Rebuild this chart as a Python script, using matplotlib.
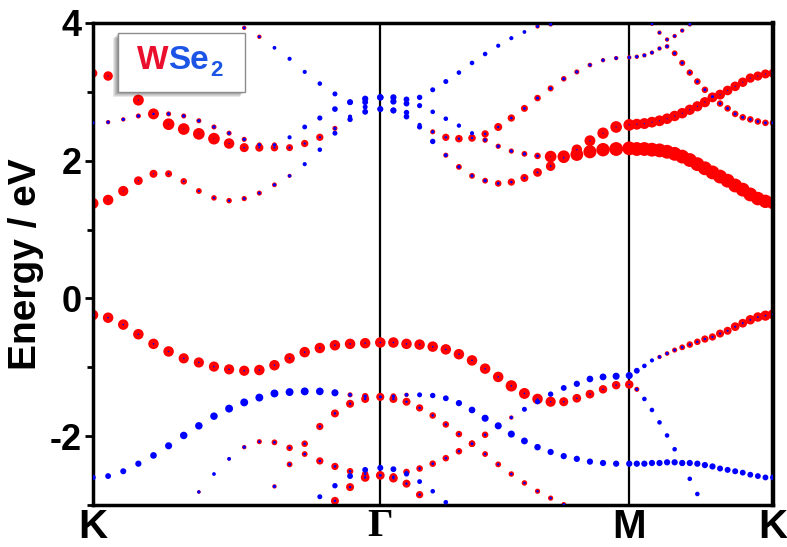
import numpy as np
import matplotlib
matplotlib.use('Agg')
import matplotlib.pyplot as plt
from matplotlib.patches import Rectangle
from matplotlib.ticker import MultipleLocator, FormatStrFormatter

plt.rcParams['font.family'] = ['Liberation Sans', 'DejaVu Sans']
plt.rcParams['font.weight'] = 'bold'
plt.rcParams['axes.unicode_minus'] = False

nan = np.nan

# K -> Gamma -> M -> K, segment lengths in 2pi/a, 20 k-points per segment
SEG_LEN = [1.333, 1.155, 0.667]
N_SEG = 20
K_LABELS = ['K', 'Γ', 'M', 'K']

# band energies (eV) on the 58 k-points, NaN where off the window
c1_e = [1.38, 1.43, 1.56, 1.71, 1.81, 1.81, 1.70, 1.56, 1.46, 1.42, 1.45, 1.53, 1.65, 1.78, 1.95, 2.16, 2.40, 2.60, 2.71, 2.75,
        2.73, 2.64, 2.49, 2.28, 2.08, 1.91, 1.78, 1.71, 1.67, 1.69, 1.75, 1.83, 1.92, 2.04, 2.16, 2.29, 2.40, 2.49, 2.52,
        2.53, 2.54, 2.56, 2.58, 2.61, 2.65, 2.69, 2.74, 2.79, 2.85, 2.92, 2.96, 3.02, 3.08, 3.14, 3.20, 3.23, 3.26, 3.27]
c2_e = [2.55, 2.56, 2.60, 2.65, 2.68, 2.68, 2.65, 2.58, 2.49, 2.40, 2.31, 2.23, 2.23, 2.34, 2.49, 2.62, 2.75, 2.85, 2.90, 2.92,
        2.86, 2.83, 2.80, 2.71, 2.61, 2.51, 2.40, 2.39, 2.49, 2.62, 2.76, 2.91, 3.05, 3.19, 3.29, 3.39, 3.46, 3.49, 3.50,
        3.51, 3.53, 3.57, 3.63, 3.66, 3.56, 3.42, 3.28, 3.15, 3.03, 2.93, 2.83, 2.76, 2.68, 2.63, 2.60, 2.57, 2.55, 2.55]
c3_e = [3.27, 3.23, 3.09, 2.88, 2.68, 2.53, 2.46, 2.39, 2.32, 2.25, 2.19, 2.19, 2.19, 2.19, 2.25, 2.34, 2.47, 2.64, 2.78, 2.75,
        2.73, 2.70, 2.52, 2.42, 2.34, 2.32, 2.33, 2.30, 2.21, 2.14, 2.10, 2.07, 2.06, 2.06, 2.09, 2.13, 2.16, 2.17, 2.18,
        2.17, 2.17, 2.16, 2.15, 2.13, 2.10, 2.06, 2.01, 1.95, 1.89, 1.83, 1.77, 1.71, 1.64, 1.58, 1.51, 1.45, 1.41, 1.39]
c4_e = ([nan] * 10 + [3.93, 3.80, 3.64, 3.48, 3.29, 3.12, 2.97, 2.85, 2.85, 2.92]
        + [2.92, 2.89, 2.92, 3.03, 3.15, 3.28, 3.42, 3.55, 3.67, 3.78, 3.87, 3.95, 3.98] + [nan] * 8
        + [3.99, 3.86, 3.76, 3.81, 3.89, 3.98] + [nan] * 11)
v1_e = [-0.24, -0.28, -0.38, -0.52, -0.66, -0.77, -0.87, -0.93, -0.99, -1.03, -1.05, -1.04, -0.97, -0.87, -0.78, -0.72, -0.68, -0.66, -0.65, -0.64,
        -0.64, -0.66, -0.67, -0.70, -0.74, -0.81, -0.90, -1.02, -1.14, -1.27, -1.38, -1.46, -1.50, -1.50, -1.45, -1.39, -1.32, -1.26, -1.25,
        -1.32, -1.46, -1.62, -1.80, -1.99, -2.19, -2.40, -2.62, -2.84] + [nan] * 10
v2_e = [-2.60, -2.58, -2.51, -2.40, -2.28, -2.14, -1.99, -1.85, -1.71, -1.60, -1.51, -1.44, -1.38, -1.36, -1.35, -1.35, -1.37, -1.40, -1.42, -1.43,
        -1.42, -1.40, -1.40, -1.41, -1.45, -1.52, -1.62, -1.74, -1.85, -1.97, -2.07, -2.16, -2.23, -2.29, -2.33, -2.37, -2.39, -2.40, -2.40,
        -2.40, -2.40, -2.39, -2.39, -2.38, -2.38, -2.39, -2.39, -2.40, -2.42, -2.44, -2.47, -2.49, -2.51, -2.53, -2.56, -2.58, -2.60, -2.60]
v3_e = ([nan] * 12 + [-2.73, -2.41, -2.11, -1.86, -1.67, -1.53, -1.46, -1.43]
        + [-1.46, -1.50, -1.59, -1.70, -1.83, -1.97, -2.11, -2.26, -2.41, -2.55, -2.68, -2.80, -2.90, -2.99] + [nan] * 24)
v4_e = ([nan] * 7 + [-2.81, -2.55, -2.33, -2.16, -2.08, -2.09, -2.17, -2.26, -2.36, -2.44, -2.51, -2.55, -2.57]
        + [-2.59, -2.52, -2.47, -2.40, -2.32, -2.22, -2.11, -1.98, -1.85, -1.73, -1.61, -1.50, -1.39, -1.30, -1.24, -1.17, -1.14, -1.13, -1.12]
        + [-1.05, -0.98, -0.90, -0.85, -0.80, -0.75, -0.71, -0.67, -0.63, -0.59, -0.56, -0.51, -0.47, -0.41, -0.36, -0.31, -0.27, -0.25, -0.23])
v5_e = [nan] * 15 + [-2.88, -2.72, -2.58, -2.49, -2.46, -2.48, -2.55, -2.66, -2.80, -2.96] + [nan] * 33
v6_e = [nan] * 16 + [-2.94, -2.74, -2.60, -2.57, -2.61, -2.69, -2.85] + [nan] * 35

# W-d and Se-p weights (%) on the same k-points
c1_w = [75, 72, 70, 60, 55, 48, 45, 40, 38, 38, 36, 35, 33, 28, 15, 10, 10, 10, 10, 10,
        10, 10, 10, 10, 35, 40, 40, 40, 45, 50, 55, 60, 65, 70, 72, 75, 78, 80, 80,
        75, 75, 74, 74, 73, 72, 72, 71, 70, 70, 68, 68, 66, 66, 65, 64, 63, 62, 62]
c1_se = [12, 12, 12, 15, 15, 20, 22, 25, 28, 30, 33, 35, 38, 40, 50, 55, 60, 65, 70, 70,
         72, 68, 62, 65, 45, 40, 40, 40, 35, 30, 28, 25, 22, 20, 18, 16, 15, 15, 15,
         15, 15, 15, 15, 15, 15, 15, 15, 15, 15, 15, 15, 15, 15, 15, 15, 15, 15, 15]
c2_w = [30, 30, 30, 35, 55, 35, 35, 35, 35, 35, 35, 35, 35, 15, 10, 10, 10, 10, 10, 10,
        10, 10, 10, 8, 8, 8, 10, 50, 55, 50, 48, 45, 42, 38, 35, 32, 30, 30, 30,
        30, 30, 30, 30, 32, 40, 42, 44, 45, 45, 45, 45, 45, 45, 45, 45, 45, 45, 45]
c2_se = [40, 40, 40, 40, 30, 40, 40, 40, 40, 40, 40, 40, 40, 50, 58, 62, 68, 72, 75, 78,
         75, 70, 62, 55, 55, 52, 50, 30, 30, 32, 35, 38, 40, 40, 40, 40, 40, 40, 40,
         40, 40, 40, 40, 40, 38, 38, 36, 36, 36, 36, 36, 36, 36, 36, 36, 36, 36, 36]
c3_w = [60, 65, 70, 75, 75, 80, 80, 80, 80, 72, 62, 56, 52, 48, 50, 50, 35, 25, 15, 10,
        10, 10, 20, 35, 50, 52, 52, 38, 36, 36, 40, 45, 80, 85, 88, 90, 92, 95, 95,
        95, 95, 95, 95, 95, 95, 95, 95, 95, 95, 95, 95, 95, 95, 95, 95, 93, 92, 90]
c3_se = [15, 15, 15, 15, 15, 12, 12, 12, 12, 15, 20, 22, 25, 28, 28, 28, 40, 50, 60, 70,
         70, 65, 50, 40, 30, 30, 30, 40, 40, 40, 38, 35, 10, 8, 6, 5, 5, 5, 5,
         5, 5, 5, 5, 5, 5, 5, 5, 5, 5, 5, 5, 5, 5, 5, 5, 5, 5, 5]
c4_w = ([0] * 10 + [30, 30, 20, 10, 10, 10, 10, 10, 10, 10]
        + [10, 10, 10, 10, 10, 10, 10, 10, 10, 10, 20, 30, 30] + [0] * 8
        + [30, 30, 30, 30, 30, 30] + [0] * 11)
c4_se = ([0] * 10 + [35, 35, 45, 50, 50, 55, 60, 65, 70, 75]
         + [75, 70, 65, 60, 60, 55, 55, 55, 50, 50, 45, 38, 38] + [0] * 8
         + [35, 35, 35, 35, 35, 35] + [0] * 11)
v1_w = [72, 72, 72, 72, 72, 72, 70, 70, 70, 70, 70, 72, 72, 72, 72, 72, 72, 72, 72, 72,
        72, 72, 72, 72, 72, 72, 72, 72, 72, 78, 75, 72, 70, 62, 60, 60, 58, 58, 58,
        35, 10, 10, 10, 10, 10, 10, 10, 10] + [0] * 10
v1_se = [20, 20, 20, 20, 20, 20, 20, 20, 20, 20, 20, 20, 20, 20, 20, 20, 20, 20, 20, 20,
         20, 20, 20, 20, 20, 20, 20, 20, 20, 20, 20, 20, 20, 20, 20, 20, 20, 20, 20,
         40, 55, 55, 55, 55, 55, 55, 55, 55] + [0] * 10
v2_w = [10, 10, 10, 10, 10, 10, 10, 10, 10, 10, 10, 10, 10, 10, 10, 10, 10, 35, 45, 50,
        40, 30, 10, 10, 10, 10, 10, 10, 10, 10, 10, 10, 10, 10, 10, 10, 10, 10, 10,
        10, 10, 10, 10, 10, 10, 10, 10, 10, 10, 10, 10, 10, 10, 10, 10, 10, 10, 10]
v2_se = [65, 70, 72, 75, 80, 85, 90, 90, 90, 95, 95, 95, 95, 95, 95, 92, 85, 45, 40, 35,
         40, 45, 60, 65, 70, 75, 80, 85, 85, 85, 82, 78, 75, 75, 75, 75, 75, 75, 75,
         75, 75, 75, 75, 75, 75, 75, 75, 75, 75, 75, 72, 72, 72, 70, 70, 70, 70, 70]
v3_w = ([0] * 12 + [30, 40, 45, 50, 55, 55, 55, 55]
        + [55, 55, 50, 45, 45, 45, 45, 40, 40, 38, 38, 36, 36, 32] + [0] * 24)
v3_se = ([0] * 12 + [40, 35, 30, 30, 30, 30, 30, 30]
         + [30, 30, 30, 30, 30, 30, 30, 30, 30, 30, 30, 30, 30, 30] + [0] * 24)
v4_w = ([0] * 7 + [25, 15, 25, 30, 35, 40, 45, 40, 50, 50, 45, 45, 50]
        + [50, 45, 45, 45, 45, 45, 45, 45, 40, 30, 10, 10, 10, 10, 10, 10, 10, 10, 10]
        + [10, 10, 10, 30, 32, 35, 40, 45, 45, 50, 50, 55, 55, 60, 60, 65, 65, 70, 70])
v4_se = ([0] * 7 + [40, 45, 45, 40, 32, 32, 32, 32, 32, 32, 32, 32, 32]
         + [32, 32, 32, 32, 32, 32, 32, 32, 32, 40, 60, 62, 65, 70, 75, 80, 82, 85, 85]
         + [70, 55, 50, 40, 38, 36, 34, 32, 30, 30, 28, 28, 26, 26, 24, 24, 22, 22, 20])
v5_w = [0] * 15 + [5, 5, 5, 5, 5, 5, 5, 5, 5, 5] + [0] * 33
v5_se = [0] * 15 + [60, 65, 70, 70, 72, 70, 62, 58, 55, 55] + [0] * 33
v6_w = [0] * 16 + [55, 55, 60, 60, 60, 55, 50] + [0] * 35
v6_se = [0] * 16 + [30, 30, 30, 30, 30, 30, 30] + [0] * 35

BANDS = [(c1_e, c1_w, c1_se), (c2_e, c2_w, c2_se), (c3_e, c3_w, c3_se), (c4_e, c4_w, c4_se),
         (v1_e, v1_w, v1_se), (v2_e, v2_w, v2_se), (v3_e, v3_w, v3_se), (v4_e, v4_w, v4_se),
         (v5_e, v5_w, v5_se), (v6_e, v6_w, v6_se)]

RED = '#ff0000'
BLUE = '#0000ff'
RED_D = 10.5   # marker diameter (pt) at 100 % W weight
BLUE_D = 6.0   # marker diameter (pt) at 100 % Se weight

k_ticks = np.concatenate([[0], np.cumsum(SEG_LEN)])
kpts = np.concatenate([np.linspace(k_ticks[0], k_ticks[1], N_SEG),
                       np.linspace(k_ticks[1], k_ticks[2], N_SEG)[1:],
                       np.linspace(k_ticks[2], k_ticks[3], N_SEG)[1:]])

fig = plt.figure(figsize=(7.87, 5.47), dpi=100)
ax = fig.add_axes([93 / 787, 42 / 547, 680 / 787, 482 / 547])

# W weight as red discs, Se weight as blue discs drawn over them
for e, w, se in BANDS:
    ax.scatter(kpts, e, s=(RED_D * np.array(w) / 100.0) ** 2, c=RED, linewidths=0, zorder=2)
for e, w, se in BANDS:
    ax.scatter(kpts, e, s=(BLUE_D * np.array(se) / 100.0) ** 2, c=BLUE, linewidths=0, zorder=3)

for kx in k_ticks[1:-1]:
    ax.axvline(kx, color='black', lw=1.6, zorder=1)

ax.set_xlim(k_ticks[0], k_ticks[-1])
ax.set_ylim(-3, 4)
ax.set_xticks(k_ticks)
ax.set_xticklabels(K_LABELS, fontsize=29, fontweight='bold')
ax.get_xticklabels()[1].set_fontfamily('Liberation Serif')
ax.tick_params(axis='x', length=0, pad=2)

ax.yaxis.set_major_locator(MultipleLocator(2))
ax.yaxis.set_minor_locator(MultipleLocator(1))
ax.yaxis.set_major_formatter(FormatStrFormatter('%d'))
ax.tick_params(axis='y', which='major', direction='out', length=6, width=2, labelsize=26, pad=2)
ax.tick_params(axis='y', which='minor', direction='out', length=4, width=2)
ax.set_ylabel('Energy / eV', fontsize=28, fontweight='bold', labelpad=4)

for sp in ax.spines.values():
    sp.set_linewidth(2.5)
ax.spines['right'].set_linewidth(3.2)

# label box with a soft drop shadow
bx, by, bw, bh = 0.0368, 0.857, 0.1868, 0.1224
px_x, px_y = 1 / 680, 1 / 482
for i in range(1, 6):
    ax.add_patch(Rectangle((bx - i * px_x, by - i * px_y), bw, bh, transform=ax.transAxes,
                           facecolor='black', edgecolor='none', alpha=0.09, zorder=5))
ax.add_patch(Rectangle((bx, by), bw, bh, transform=ax.transAxes, facecolor='white',
                       edgecolor='#8c8c8c', lw=1, zorder=6))
ax.text(0.1103, 0.905, 'W', transform=ax.transAxes, ha='right', va='baseline',
        fontsize=24, fontweight='bold', color='#ea0f2d', zorder=7)
se_txt = ax.text(0.1103, 0.905, 'Se', transform=ax.transAxes, ha='left', va='baseline',
                 fontsize=24, fontweight='bold', color='#1c55e6', zorder=7)
ax.annotate('2', xy=(1.0, 0.0), xycoords=se_txt, xytext=(1, -4), textcoords='offset points',
            ha='left', va='bottom', fontsize=16, fontweight='bold', color='#1c55e6', zorder=7)

fig.savefig('out.png', dpi=100)
